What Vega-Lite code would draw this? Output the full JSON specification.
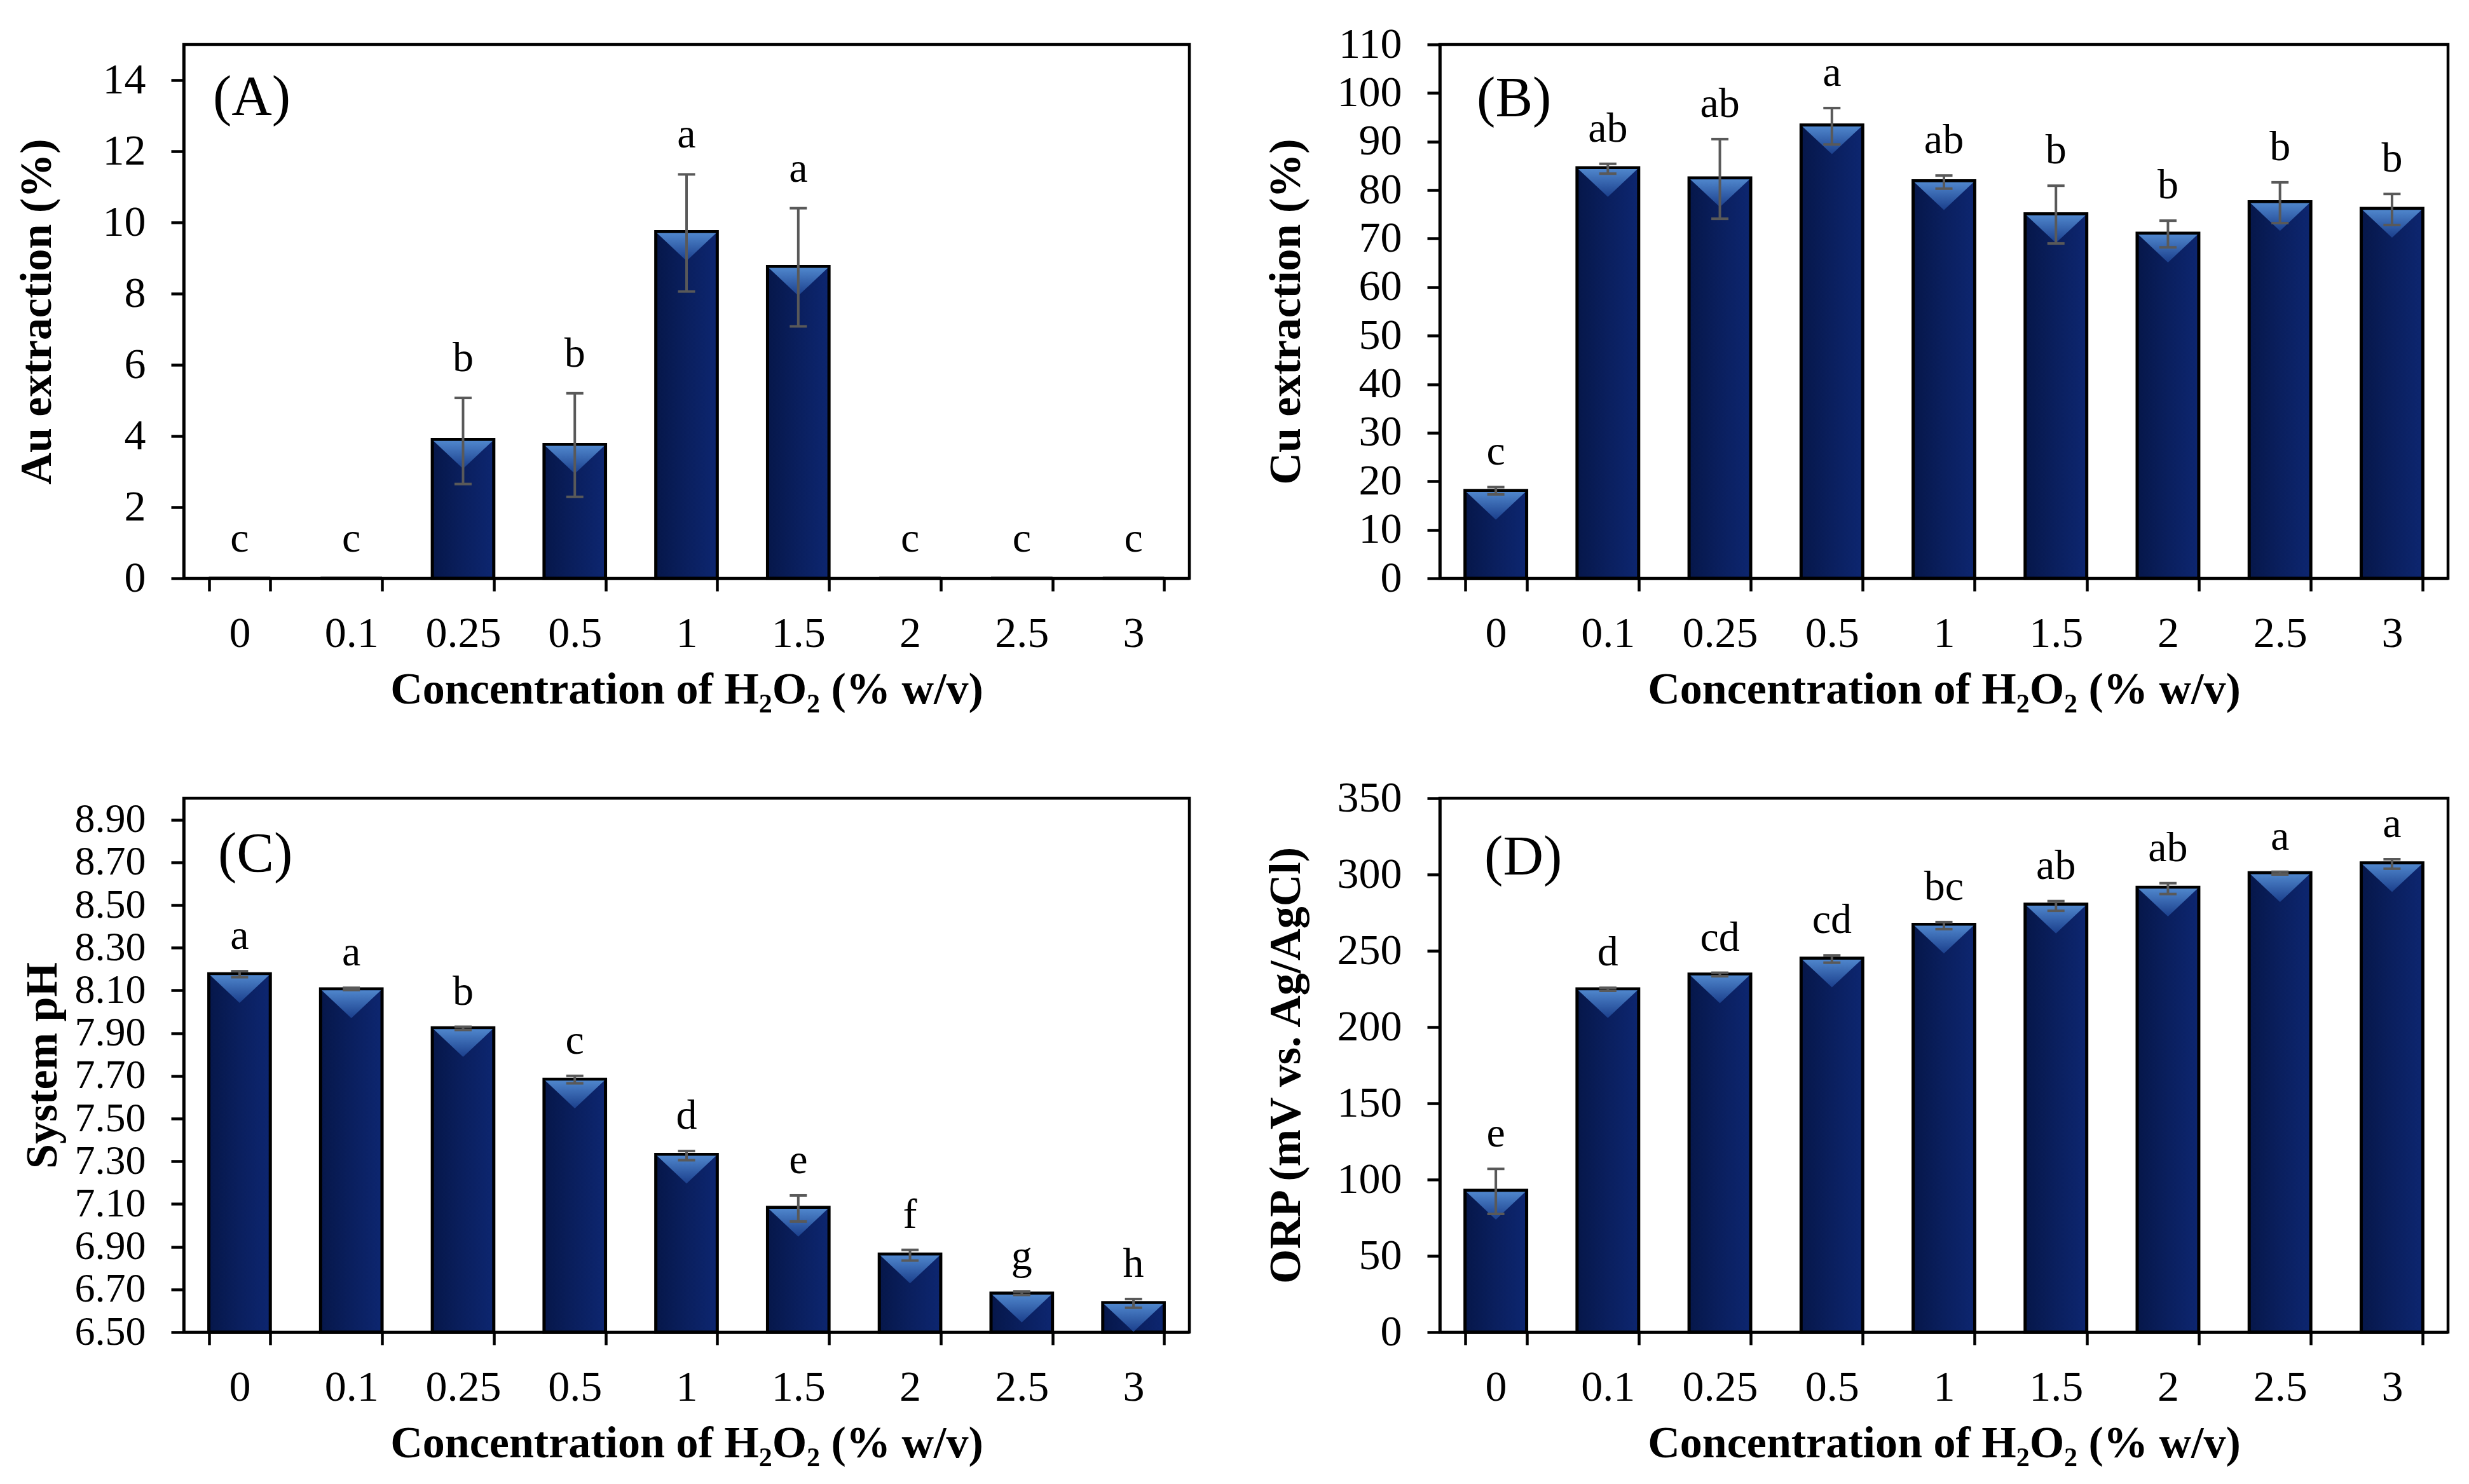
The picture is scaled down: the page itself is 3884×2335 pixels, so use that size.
{
  "$schema": "https://vega.github.io/schema/vega-lite/v6.json",
  "background": "white",
  "padding": {"left": 20, "top": 33, "right": 4, "bottom": 0},
  "columns": 2,
  "spacing": {"row": 96, "column": 111},
  "config": {
    "view": {"stroke": "black", "strokeWidth": 4.5},
    "axis": {
      "labelFont": "Liberation Serif", "labelFontSize": 68, "labelColor": "black", "labelOverlap": false,
      "titleFont": "Liberation Serif", "titleFontSize": 70, "titleFontWeight": "bold", "titleColor": "black",
      "domainColor": "black", "domainWidth": 4.5, "tickColor": "black", "tickWidth": 4.5, "tickSize": 20,
      "grid": false, "labelPadding": 40, "titlePadding": 44
    },
    "axisX": {"labelAngle": 0, "labelPadding": 33, "titlePadding": 20},
    "text": {"font": "Liberation Serif", "color": "black"}
  },
  "datasets": {
    "A": [
      {"conc": "0", "mean": 0, "lo": 0, "hi": 0, "letter": "c"},
      {"conc": "0.1", "mean": 0, "lo": 0, "hi": 0, "letter": "c"},
      {"conc": "0.25", "mean": 3.9, "lo": 2.65, "hi": 5.07, "letter": "b"},
      {"conc": "0.5", "mean": 3.76, "lo": 2.29, "hi": 5.2, "letter": "b"},
      {"conc": "1", "mean": 9.74, "lo": 8.06, "hi": 11.35, "letter": "a"},
      {"conc": "1.5", "mean": 8.76, "lo": 7.08, "hi": 10.4, "letter": "a"},
      {"conc": "2", "mean": 0, "lo": 0, "hi": 0, "letter": "c"},
      {"conc": "2.5", "mean": 0, "lo": 0, "hi": 0, "letter": "c"},
      {"conc": "3", "mean": 0, "lo": 0, "hi": 0, "letter": "c"}
    ],
    "B": [
      {"conc": "0", "mean": 18.1, "lo": 17.3, "hi": 18.8, "letter": "c"},
      {"conc": "0.1", "mean": 84.6, "lo": 83.4, "hi": 85.4, "letter": "ab"},
      {"conc": "0.25", "mean": 82.5, "lo": 74.1, "hi": 90.5, "letter": "ab"},
      {"conc": "0.5", "mean": 93.4, "lo": 89.4, "hi": 96.9, "letter": "a"},
      {"conc": "1", "mean": 81.9, "lo": 80.3, "hi": 83.0, "letter": "ab"},
      {"conc": "1.5", "mean": 75.1, "lo": 69.0, "hi": 80.9, "letter": "b"},
      {"conc": "2", "mean": 71.1, "lo": 68.2, "hi": 73.7, "letter": "b"},
      {"conc": "2.5", "mean": 77.6, "lo": 73.2, "hi": 81.6, "letter": "b"},
      {"conc": "3", "mean": 76.2, "lo": 72.8, "hi": 79.2, "letter": "b"}
    ],
    "C": [
      {"conc": "0", "mean": 8.178, "lo": 8.162, "hi": 8.19, "letter": "a"},
      {"conc": "0.1", "mean": 8.107, "lo": 8.102, "hi": 8.112, "letter": "a"},
      {"conc": "0.25", "mean": 7.925, "lo": 7.915, "hi": 7.93, "letter": "b"},
      {"conc": "0.5", "mean": 7.684, "lo": 7.665, "hi": 7.7, "letter": "c"},
      {"conc": "1", "mean": 7.332, "lo": 7.305, "hi": 7.348, "letter": "d"},
      {"conc": "1.5", "mean": 7.084, "lo": 7.018, "hi": 7.14, "letter": "e"},
      {"conc": "2", "mean": 6.865, "lo": 6.835, "hi": 6.885, "letter": "f"},
      {"conc": "2.5", "mean": 6.682, "lo": 6.674, "hi": 6.69, "letter": "g"},
      {"conc": "3", "mean": 6.638, "lo": 6.614, "hi": 6.655, "letter": "h"}
    ],
    "D": [
      {"conc": "0", "mean": 92.9, "lo": 77.5, "hi": 107.0, "letter": "e"},
      {"conc": "0.1", "mean": 225.0, "lo": 223.8, "hi": 225.7, "letter": "d"},
      {"conc": "0.25", "mean": 234.7, "lo": 233.3, "hi": 235.6, "letter": "cd"},
      {"conc": "0.5", "mean": 245.1, "lo": 242.2, "hi": 247.0, "letter": "cd"},
      {"conc": "1", "mean": 267.3, "lo": 264.2, "hi": 268.8, "letter": "bc"},
      {"conc": "1.5", "mean": 280.5, "lo": 276.2, "hi": 282.6, "letter": "ab"},
      {"conc": "2", "mean": 291.6, "lo": 287.2, "hi": 294.3, "letter": "ab"},
      {"conc": "2.5", "mean": 301.1, "lo": 300.0, "hi": 301.8, "letter": "a"},
      {"conc": "3", "mean": 307.6, "lo": 303.8, "hi": 310.0, "letter": "a"}
    ]
  },
  "concat": [
    {
      "data": {"name": "A"},
      "width": 1582, "height": 840,
      "encoding": {
        "x": {"field": "conc", "type": "nominal", "sort": null,
              "scale": {"domain": ["0","0.1","0.25","0.5","1","1.5","2","2.5","3"], "paddingInner": 0.45, "paddingOuter": 0.225},
              "axis": {"title": "Concentration of H₂O₂ (% w/v)", "tickBand": "extent"}}
      },
      "layer": [
        {"mark": {"type": "bar", "stroke": "black", "strokeWidth": 5,
                  "fill": {"gradient": "linear", "x1": 0, "x2": 1, "y1": 0, "y2": 0, "stops": [{"offset": 0, "color": "#06174a"}, {"offset": 0.5, "color": "#0a1f5e"}, {"offset": 1, "color": "#0d2670"}]}},
         "encoding": {"y": {"field": "mean", "type": "quantitative", "title": "Au extraction (%)",
                            "scale": {"domain": [0, 15], "nice": false, "zero": true},
                            "axis": {"values": [0, 2, 4, 6, 8, 10, 12, 14], "titlePadding": 67}}}},
        {"transform": [{"filter": "datum.mean > 0"}],
         "mark": {"type": "point", "shape": "M-1,-0.47L1,-0.47L0,0.47Z", "size": 8649, "filled": true, "opacity": 1, "strokeWidth": 0, "yOffset": 24,
                  "fill": {"gradient": "linear", "x1": 0, "x2": 0, "y1": 0, "y2": 1, "stops": [{"offset": 0, "color": "#4f86cc"}, {"offset": 1, "color": "#1b3f8c"}]}},
         "encoding": {"y": {"field": "mean", "type": "quantitative", "title": "Au extraction (%)"}}},
        {"transform": [{"filter": "datum.hi > datum.lo"}],
         "mark": {"type": "rule", "color": "#595959", "strokeWidth": 4},
         "encoding": {"y": {"field": "lo", "type": "quantitative", "title": "Au extraction (%)"}, "y2": {"field": "hi"}}},
        {"transform": [{"filter": "datum.hi > datum.lo"}],
         "mark": {"type": "tick", "color": "#595959", "thickness": 4, "size": 27, "opacity": 1},
         "encoding": {"y": {"field": "lo", "type": "quantitative", "title": "Au extraction (%)"}}},
        {"transform": [{"filter": "datum.hi > datum.lo"}],
         "mark": {"type": "tick", "color": "#595959", "thickness": 4, "size": 27, "opacity": 1},
         "encoding": {"y": {"field": "hi", "type": "quantitative", "title": "Au extraction (%)"}}},
        {"mark": {"type": "text", "fontSize": 66, "baseline": "alphabetic", "dy": -42},
         "encoding": {"y": {"field": "hi", "type": "quantitative", "title": "Au extraction (%)"}, "text": {"field": "letter"}}},
        {"data": {"values": [{"lab": "(A)"}]},
         "mark": {"type": "text", "fontSize": 88, "align": "left", "baseline": "middle", "dx": -42},
         "encoding": {"x": {"datum": "0"}, "y": {"datum": 13.5, "type": "quantitative", "title": "Au extraction (%)"}, "text": {"field": "lab"}}}
      ]
    },
    {
      "data": {"name": "B"},
      "width": 1586, "height": 840,
      "encoding": {
        "x": {"field": "conc", "type": "nominal", "sort": null,
              "scale": {"domain": ["0","0.1","0.25","0.5","1","1.5","2","2.5","3"], "paddingInner": 0.45, "paddingOuter": 0.225},
              "axis": {"title": "Concentration of H₂O₂ (% w/v)", "tickBand": "extent"}}
      },
      "layer": [
        {"mark": {"type": "bar", "stroke": "black", "strokeWidth": 5,
                  "fill": {"gradient": "linear", "x1": 0, "x2": 1, "y1": 0, "y2": 0, "stops": [{"offset": 0, "color": "#06174a"}, {"offset": 0.5, "color": "#0a1f5e"}, {"offset": 1, "color": "#0d2670"}]}},
         "encoding": {"y": {"field": "mean", "type": "quantitative", "title": "Cu extraction (%)",
                            "scale": {"domain": [0, 110], "nice": false, "zero": true},
                            "axis": {"values": [0, 10, 20, 30, 40, 50, 60, 70, 80, 90, 100, 110]}}}},
        {"mark": {"type": "point", "shape": "M-1,-0.47L1,-0.47L0,0.47Z", "size": 8649, "filled": true, "opacity": 1, "strokeWidth": 0, "yOffset": 24,
                  "fill": {"gradient": "linear", "x1": 0, "x2": 0, "y1": 0, "y2": 1, "stops": [{"offset": 0, "color": "#4f86cc"}, {"offset": 1, "color": "#1b3f8c"}]}},
         "encoding": {"y": {"field": "mean", "type": "quantitative", "title": "Cu extraction (%)"}}},
        {"mark": {"type": "rule", "color": "#595959", "strokeWidth": 4},
         "encoding": {"y": {"field": "lo", "type": "quantitative", "title": "Cu extraction (%)"}, "y2": {"field": "hi"}}},
        {"mark": {"type": "tick", "color": "#595959", "thickness": 4, "size": 27, "opacity": 1},
         "encoding": {"y": {"field": "lo", "type": "quantitative", "title": "Cu extraction (%)"}}},
        {"mark": {"type": "tick", "color": "#595959", "thickness": 4, "size": 27, "opacity": 1},
         "encoding": {"y": {"field": "hi", "type": "quantitative", "title": "Cu extraction (%)"}}},
        {"mark": {"type": "text", "fontSize": 66, "baseline": "alphabetic", "dy": -35},
         "encoding": {"y": {"field": "hi", "type": "quantitative", "title": "Cu extraction (%)"}, "text": {"field": "letter"}}},
        {"data": {"values": [{"lab": "(B)"}]},
         "mark": {"type": "text", "fontSize": 88, "align": "left", "baseline": "middle", "dx": -30},
         "encoding": {"x": {"datum": "0"}, "y": {"datum": 98.8, "type": "quantitative", "title": "Cu extraction (%)"}, "text": {"field": "lab"}}}
      ]
    },
    {
      "data": {"name": "C"},
      "width": 1582, "height": 840,
      "encoding": {
        "x": {"field": "conc", "type": "nominal", "sort": null,
              "scale": {"domain": ["0","0.1","0.25","0.5","1","1.5","2","2.5","3"], "paddingInner": 0.45, "paddingOuter": 0.225},
              "axis": {"title": "Concentration of H₂O₂ (% w/v)", "tickBand": "extent"}}
      },
      "layer": [
        {"mark": {"type": "bar", "stroke": "black", "strokeWidth": 5,
                  "fill": {"gradient": "linear", "x1": 0, "x2": 1, "y1": 0, "y2": 0, "stops": [{"offset": 0, "color": "#06174a"}, {"offset": 0.5, "color": "#0a1f5e"}, {"offset": 1, "color": "#0d2670"}]}},
         "encoding": {"y": {"field": "mean", "type": "quantitative", "title": "System pH",
                            "scale": {"domain": [6.5, 9.0], "nice": false, "zero": false},
                            "axis": {"values": [6.5, 6.7, 6.9, 7.1, 7.3, 7.5, 7.7, 7.9, 8.1, 8.3, 8.5, 8.7, 8.9], "format": ".2f", "labelFontSize": 64, "titlePadding": 14}},
                      "y2": {"datum": 6.5}}},
        {"mark": {"type": "point", "shape": "M-1,-0.47L1,-0.47L0,0.47Z", "size": 8649, "filled": true, "opacity": 1, "strokeWidth": 0, "yOffset": 24,
                  "fill": {"gradient": "linear", "x1": 0, "x2": 0, "y1": 0, "y2": 1, "stops": [{"offset": 0, "color": "#4f86cc"}, {"offset": 1, "color": "#1b3f8c"}]}},
         "encoding": {"y": {"field": "mean", "type": "quantitative", "title": "System pH", "scale": {"domain": [6.5, 9.0], "nice": false, "zero": false}}}},
        {"mark": {"type": "rule", "color": "#595959", "strokeWidth": 4},
         "encoding": {"y": {"field": "lo", "type": "quantitative", "title": "System pH", "scale": {"domain": [6.5, 9.0], "nice": false, "zero": false}}, "y2": {"field": "hi"}}},
        {"mark": {"type": "tick", "color": "#595959", "thickness": 4, "size": 27, "opacity": 1},
         "encoding": {"y": {"field": "lo", "type": "quantitative", "title": "System pH", "scale": {"domain": [6.5, 9.0], "nice": false, "zero": false}}}},
        {"mark": {"type": "tick", "color": "#595959", "thickness": 4, "size": 27, "opacity": 1},
         "encoding": {"y": {"field": "hi", "type": "quantitative", "title": "System pH", "scale": {"domain": [6.5, 9.0], "nice": false, "zero": false}}}},
        {"mark": {"type": "text", "fontSize": 66, "baseline": "alphabetic", "dy": -35},
         "encoding": {"y": {"field": "hi", "type": "quantitative", "title": "System pH", "scale": {"domain": [6.5, 9.0], "nice": false, "zero": false}}, "text": {"field": "letter"}}},
        {"data": {"values": [{"lab": "(C)"}]},
         "mark": {"type": "text", "fontSize": 88, "align": "left", "baseline": "middle", "dx": -34},
         "encoding": {"x": {"datum": "0"}, "y": {"datum": 8.735, "type": "quantitative", "title": "System pH", "scale": {"domain": [6.5, 9.0], "nice": false, "zero": false}}, "text": {"field": "lab"}}}
      ]
    },
    {
      "data": {"name": "D"},
      "width": 1586, "height": 840,
      "encoding": {
        "x": {"field": "conc", "type": "nominal", "sort": null,
              "scale": {"domain": ["0","0.1","0.25","0.5","1","1.5","2","2.5","3"], "paddingInner": 0.45, "paddingOuter": 0.225},
              "axis": {"title": "Concentration of H₂O₂ (% w/v)", "tickBand": "extent"}}
      },
      "layer": [
        {"mark": {"type": "bar", "stroke": "black", "strokeWidth": 5,
                  "fill": {"gradient": "linear", "x1": 0, "x2": 1, "y1": 0, "y2": 0, "stops": [{"offset": 0, "color": "#06174a"}, {"offset": 0.5, "color": "#0a1f5e"}, {"offset": 1, "color": "#0d2670"}]}},
         "encoding": {"y": {"field": "mean", "type": "quantitative", "title": "ORP (mV vs. Ag/AgCl)",
                            "scale": {"domain": [0, 350], "nice": false, "zero": true},
                            "axis": {"values": [0, 50, 100, 150, 200, 250, 300, 350]}}}},
        {"mark": {"type": "point", "shape": "M-1,-0.47L1,-0.47L0,0.47Z", "size": 8649, "filled": true, "opacity": 1, "strokeWidth": 0, "yOffset": 24,
                  "fill": {"gradient": "linear", "x1": 0, "x2": 0, "y1": 0, "y2": 1, "stops": [{"offset": 0, "color": "#4f86cc"}, {"offset": 1, "color": "#1b3f8c"}]}},
         "encoding": {"y": {"field": "mean", "type": "quantitative", "title": "ORP (mV vs. Ag/AgCl)"}}},
        {"mark": {"type": "rule", "color": "#595959", "strokeWidth": 4},
         "encoding": {"y": {"field": "lo", "type": "quantitative", "title": "ORP (mV vs. Ag/AgCl)"}, "y2": {"field": "hi"}}},
        {"mark": {"type": "tick", "color": "#595959", "thickness": 4, "size": 27, "opacity": 1},
         "encoding": {"y": {"field": "lo", "type": "quantitative", "title": "ORP (mV vs. Ag/AgCl)"}}},
        {"mark": {"type": "tick", "color": "#595959", "thickness": 4, "size": 27, "opacity": 1},
         "encoding": {"y": {"field": "hi", "type": "quantitative", "title": "ORP (mV vs. Ag/AgCl)"}}},
        {"mark": {"type": "text", "fontSize": 66, "baseline": "alphabetic", "dy": -35},
         "encoding": {"y": {"field": "hi", "type": "quantitative", "title": "ORP (mV vs. Ag/AgCl)"}, "text": {"field": "letter"}}},
        {"data": {"values": [{"lab": "(D)"}]},
         "mark": {"type": "text", "fontSize": 88, "align": "left", "baseline": "middle", "dx": -18},
         "encoding": {"x": {"datum": "0"}, "y": {"datum": 311, "type": "quantitative", "title": "ORP (mV vs. Ag/AgCl)"}, "text": {"field": "lab"}}}
      ]
    }
  ]
}
